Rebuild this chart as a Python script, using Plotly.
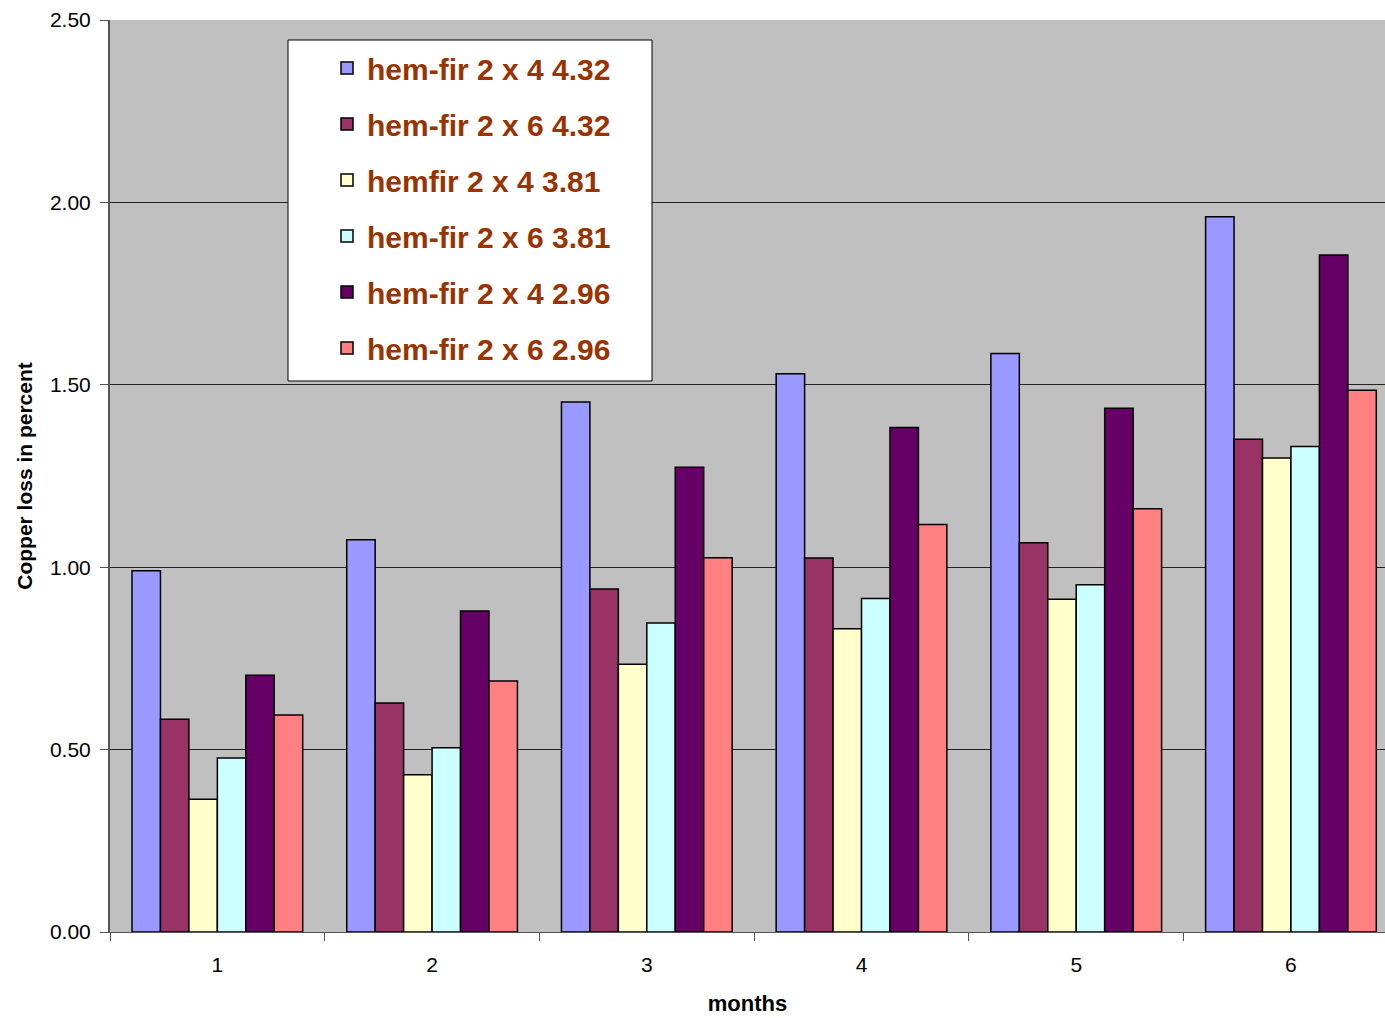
import plotly.graph_objects as go

# Monthly copper loss for each hem-fir sample group
months = ["1", "2", "3", "4", "5", "6"]

series_names = [
    "hem-fir 2 x 4 4.32",
    "hem-fir 2 x 6 4.32",
    "hemfir 2 x 4 3.81",
    "hem-fir 2 x 6 3.81",
    "hem-fir 2 x 4 2.96",
    "hem-fir 2 x 6 2.96",
]

hf_2x4_432 = [0.99, 1.075, 1.453, 1.530, 1.586, 1.961]
hf_2x6_432 = [0.583, 0.628, 0.940, 1.025, 1.067, 1.351]
hf_2x4_381 = [0.364, 0.431, 0.734, 0.831, 0.912, 1.299]
hf_2x6_381 = [0.477, 0.505, 0.847, 0.914, 0.952, 1.331]
hf_2x4_296 = [0.704, 0.880, 1.274, 1.383, 1.436, 1.856]
hf_2x6_296 = [0.595, 0.688, 1.026, 1.117, 1.160, 1.485]

series_values = [hf_2x4_432, hf_2x6_432, hf_2x4_381, hf_2x6_381, hf_2x4_296, hf_2x6_296]
colors = ["#9999FF", "#993366", "#FFFFCC", "#CCFFFF", "#660066", "#FF8080"]

y_ticks = [0, 0.5, 1.0, 1.5, 2.0, 2.5]

FONT = "Liberation Sans, Arial, sans-serif"

fig = go.Figure()
for i, (name, vals, col) in enumerate(zip(series_names, series_values, colors)):
    fig.add_trace(go.Bar(
        x=months, y=vals, name=name,
        marker=dict(color=col, line=dict(color="#000000", width=1.5)),
        legendgroup=f"g{i}",
    ))

# pixel geometry of the plotting area
W, H = 1385, 1018
L, R, T, B = 110, 0, 20, 86
pw, ph = W - L - R, H - T - B


def px_x(x):
    return (x - L) / pw


def px_y(y):
    return (H - B - y) / ph


fig.update_layout(
    width=W, height=H,
    margin=dict(l=L, r=R, t=T, b=B),
    paper_bgcolor="white",
    plot_bgcolor="#C0C0C0",
    barmode="group",
    bargap=0.205,
    bargroupgap=0,
    font=dict(family=FONT, size=21, color="#000000"),
    showlegend=True,
    legend=dict(
        x=px_x(327), y=px_y(42), xanchor="left", yanchor="top",
        bgcolor="rgba(0,0,0,0)", borderwidth=0,
        font=dict(family=FONT, size=30, color="#993300", weight="bold"),
        traceorder="grouped", tracegroupgap=14,
    ),
    shapes=[dict(
        type="rect", xref="paper", yref="paper",
        x0=px_x(288), x1=px_x(652), y0=px_y(381), y1=px_y(40),
        fillcolor="white", line=dict(color="#000000", width=1), layer="above",
    )],
)

fig.update_xaxes(
    type="category",
    range=[-0.5, 5.438],
    tickson="boundaries",
    ticks="outside", ticklen=8, tickcolor="#555555", tickwidth=1,
    showline=True, linecolor="#555555", linewidth=1,
    showgrid=False,
    ticklabelstandoff=14,
    tickfont=dict(size=21),
    title=dict(text="<b>months</b>", font=dict(size=22), standoff=20),
)

fig.update_yaxes(
    range=[0, 2.5],
    tickvals=y_ticks,
    tickformat=".2f",
    ticks="outside", ticklen=8, tickcolor="#555555", tickwidth=1,
    showline=True, linecolor="#555555", linewidth=2,
    showgrid=True, gridcolor="#222222", gridwidth=1,
    zeroline=False,
    ticklabelstandoff=5,
    tickfont=dict(size=21),
    title=dict(text="<b>Copper loss in percent</b>", font=dict(size=21), standoff=12),
)

fig.write_html("out.html")
